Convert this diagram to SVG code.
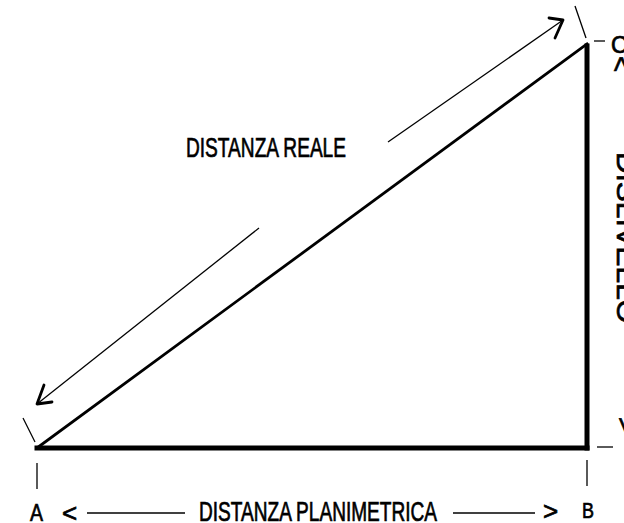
<svg xmlns="http://www.w3.org/2000/svg" width="624" height="523" viewBox="0 0 624 523">
<style>
.lbl{font-family:"Liberation Sans",Arial,sans-serif;fill:#000;stroke:#000;stroke-width:0.7}
.thick{stroke:#000;fill:none;stroke-linecap:square}
.thin{stroke:#000;stroke-width:1.3;fill:none}
.head{stroke:#000;stroke-width:2.8;fill:none;stroke-linecap:round;stroke-linejoin:round}
</style>
<rect width="624" height="523" fill="#fff"/>
<g id="triangle">
<line class="thick" x1="37" y1="448" x2="587" y2="448" stroke-width="5"/>
<line class="thick" x1="587" y1="46" x2="587" y2="448" stroke-width="5"/>
<line class="thick" x1="37" y1="448" x2="587" y2="44" stroke-width="2.8"/>
</g>
<g id="connectors">
<line class="thin" x1="388" y1="142" x2="563" y2="20"/>
<polyline class="head" points="549,18 563,20 555,38"/>
<line class="thin" x1="259" y1="228" x2="37" y2="404"/>
<polyline class="head" points="44,385 37,404 52,402"/>
<line class="thin" x1="575" y1="6" x2="586" y2="38"/>
<line class="thin" x1="594" y1="41" x2="605" y2="41"/>
<line class="thin" x1="23" y1="418" x2="35" y2="442"/>
<line class="thin" x1="37" y1="463" x2="37" y2="489"/>
<line class="thin" x1="587" y1="460" x2="587" y2="486"/>
<line class="thin" x1="597" y1="447" x2="613" y2="447"/>
<line class="thin" x1="87" y1="513" x2="185" y2="513"/>
<line class="thin" x1="453" y1="513" x2="535" y2="513"/>
</g>
<g id="label-reale">
<text class="lbl" x="186" y="157" font-size="28" textLength="160" lengthAdjust="spacingAndGlyphs">DISTANZA REALE</text>
</g>
<g id="label-planimetrica">
<text class="lbl" x="199" y="521" font-size="27" textLength="238" lengthAdjust="spacingAndGlyphs">DISTANZA PLANIMETRICA</text>
<text class="lbl" x="62" y="522" font-size="26">&lt;</text>
<text class="lbl" x="543" y="520" font-size="26">&gt;</text>
</g>
<g id="node-A"><text class="lbl" x="30" y="521" font-size="23" textLength="13" lengthAdjust="spacingAndGlyphs">A</text></g>
<g id="node-B"><text class="lbl" x="582" y="518" font-size="22" textLength="12" lengthAdjust="spacingAndGlyphs">B</text></g>
<g id="node-C"><text class="lbl" x="611" y="53" font-size="23">C</text></g>
<g id="label-dislivello">
<text class="lbl" font-size="28" transform="translate(612,56) rotate(90)">&lt;</text>
<text class="lbl" font-size="28" transform="translate(617,152) rotate(90)" textLength="171" lengthAdjust="spacingAndGlyphs">DISLIVELLO</text>
<text class="lbl" font-size="28" transform="translate(617,417) rotate(90)">&gt;</text>
</g>
</svg>
